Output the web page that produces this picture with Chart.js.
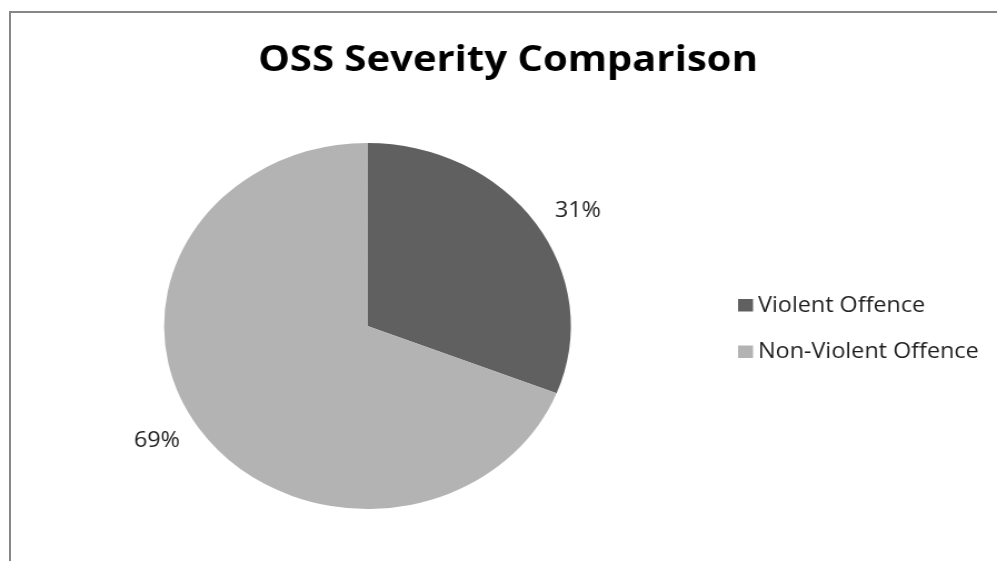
<!DOCTYPE html>
<html><head><meta charset="utf-8">
<script src="https://cdn.jsdelivr.net/npm/chart.js"></script>
<style>
html,body{margin:0;padding:0;background:#fff;overflow:hidden;width:997px;height:561px;}
#frame{position:absolute;left:9px;top:11px;width:1200px;height:800px;border-left:2px solid #868686;border-top:2px solid #868686;}
#wrap{position:absolute;left:0;top:0;width:897px;height:561px;transform:scaleX(1.1115);transform-origin:0 0;}
</style></head><body>
<div id="frame"></div>
<div id="wrap"><canvas id="c" width="897" height="561"></canvas></div>
<script>
const titleText = 'OSS Severity Comparison';
const categories = ['Violent Offence', 'Non-Violent Offence'];
const values = [31, 69];
const valueLabels = ['31%', '69%'];
const colors = ['#606060', '#b3b3b3'];

const decor = {
  id: 'decor',
  afterDatasetsDraw(chart) {
    const ctx = chart.ctx;
    const meta = chart.getDatasetMeta(0);
    ctx.save();
    // data labels
    ctx.fillStyle = '#1e1e1e';
    ctx.font = '21px "Open Sans"';
    ctx.textBaseline = 'middle';
    meta.data.forEach((arc, i) => {
      const mid = (arc.startAngle + arc.endAngle) / 2;
      const r = arc.outerRadius + 21;
      const x = arc.x + Math.cos(mid) * r;
      const y = arc.y + Math.sin(mid) * r;
      ctx.textAlign = Math.cos(mid) >= 0 ? 'left' : 'right';
      ctx.fillText(valueLabels[i], x, y);
    });
    // title
    ctx.font = 'bold 36px "Open Sans"';
    ctx.textAlign = 'center';
    ctx.textBaseline = 'alphabetic';
    ctx.fillStyle = '#000';
    ctx.fillText(titleText, 457, 71);
    // legend
    ctx.font = '21px "Open Sans"';
    ctx.textAlign = 'left';
    categories.forEach((c, i) => {
      const dy = i * 46.5;
      ctx.fillStyle = colors[i];
      ctx.fillRect(664, 299 + dy, 13.5, 12.5);
      ctx.fillStyle = '#1e1e1e';
      ctx.fillText(c, 682, 311.5 + dy);
    });
    ctx.restore();
  }
};

function draw() {
  new Chart(document.getElementById('c'), {
    type: 'pie',
    data: {
      labels: categories,
      datasets: [{ data: values, backgroundColor: colors, borderWidth: 0 }]
    },
    options: {
      responsive: false,
      animation: false,
      layout: { padding: { left: 147.6, right: 383.4, top: 143, bottom: 52 } },
      plugins: {
        legend: { display: false },
        title: { display: false },
        tooltip: { enabled: false }
      }
    },
    plugins: [decor]
  });
}
Promise.all([
  document.fonts.load('21px "Open Sans"'),
  document.fonts.load('bold 36px "Open Sans"')
]).then(draw, draw);
</script>
</body></html>
